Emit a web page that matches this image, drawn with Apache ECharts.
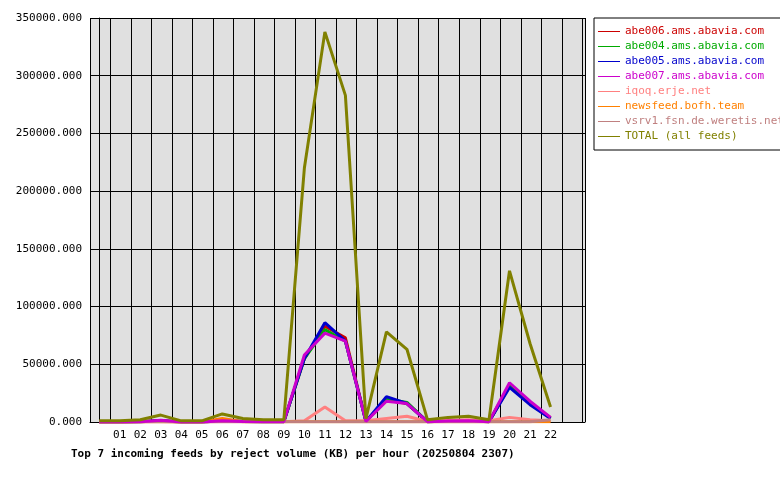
<!DOCTYPE html><html><head><meta charset="utf-8"><script src="https://cdn.jsdelivr.net/npm/echarts@6/dist/echarts.min.js"></script>
<style>body{margin:0;background:#fff}#c{width:780px;height:480px}</style></head><body><div id="c"></div><script>
const hours=[0,1,2,3,4,5,6,7,8,9,10,11,12,13,14,15,16,17,18,19,20,21,22];
const names=['abe006.ams.abavia.com','abe004.ams.abavia.com','abe005.ams.abavia.com','abe007.ams.abavia.com','iqoq.erje.net','newsfeed.bofh.team','vsrv1.fsn.de.weretis.net','TOTAL (all feeds)'];
const colors=['#cc0000','#00aa00','#0000cc','#cc00cc','#ff8080','#ff8000','#c08080','#808000'];
const abe006=[0,0,300,1000,0,0,1000,500,300,300,55000,83000,73000,500,19000,16000,300,800,1000,300,31000,16000,3500];
const abe004=[0,0,300,1000,0,0,1000,500,300,300,55000,80000,70000,500,20000,17000,300,800,1000,300,32000,16000,3500];
const abe005=[0,0,300,1000,0,0,1000,500,300,300,55000,86000,70000,500,22000,16000,300,800,1000,300,30000,15000,3000];
const abe007=[0,0,300,1500,0,0,1000,500,300,300,58000,77000,70000,500,18000,16000,300,800,1000,300,34000,18000,4000];
const iqoq=[0,0,200,500,0,0,500,300,200,200,1000,13000,1000,1000,3000,5000,500,1500,2000,1000,4000,2000,1000];
const newsfeed=[0,0,200,300,0,0,3000,200,200,200,200,200,200,200,200,200,200,200,200,200,200,200,200];
const vsrv1=[0,0,200,300,0,0,300,200,200,200,200,200,200,200,200,200,200,200,200,200,200,200,2000];
const total=[1000,1000,2000,6000,1000,1000,7000,3000,2000,2000,220000,338000,283000,3000,78000,63000,2000,4000,5000,2000,131000,68000,13000];
const all=[abe006,abe004,abe005,abe007,iqoq,newsfeed,vsrv1,total];
const ch=echarts.init(document.getElementById('c'));
const F='DejaVu Sans Mono';
ch.setOption({animation:false,
grid:{left:90,top:18,width:495,height:404},
title:{text:'Top 7 incoming feeds by reject volume (KB) per hour (20250804 2307)',left:66,top:444,textStyle:{fontFamily:F,fontSize:11,fontWeight:'bold',color:'#000'}},
legend:{orient:'vertical',left:594,top:18,padding:[8,8,8,4],itemGap:4,borderColor:'#000',borderWidth:1,itemWidth:22,itemHeight:8,
 data:names.map((n,i)=>({name:n,textStyle:{color:colors[i]}})),textStyle:{fontFamily:F,fontSize:11},icon:'path://M0,4L22,4L22,5L0,5Z'},
xAxis:{type:'value',min:-0.45,max:23.68,interval:1,axisLine:{lineStyle:{color:'#000'}},axisTick:{show:false},
 splitLine:{show:true,lineStyle:{color:'#000'}},
 axisLabel:{fontFamily:F,fontSize:11,color:'#000',formatter:v=>Number.isInteger(v)?String(v).padStart(2,'0'):'',showMinLabel:false,showMaxLabel:false,customValues:[0,1,2,3,4,5,6,7,8,9,10,11,12,13,14,15,16,17,18,19,20,21,22,23]}},
yAxis:{type:'value',min:0,max:350000,interval:50000,axisLine:{show:true,lineStyle:{color:'#000'}},axisTick:{show:false},
 splitLine:{lineStyle:{color:'#000'}},axisLabel:{fontFamily:F,fontSize:11,color:'#000',formatter:v=>v+'.000'}},
series:all.map((d,i)=>({name:names[i],type:'line',data:d.map((v,j)=>[hours[j],v]),symbol:'none',lineStyle:{width:3,color:colors[i]},itemStyle:{color:colors[i]},z:i===7?10:(i===3?9:5)})),
});
ch.getZr().add(new echarts.graphic.Rect({shape:{x:90,y:18,width:495,height:404},style:{fill:'#e0e0e0'},z:-10,silent:true}));
</script></body></html>
